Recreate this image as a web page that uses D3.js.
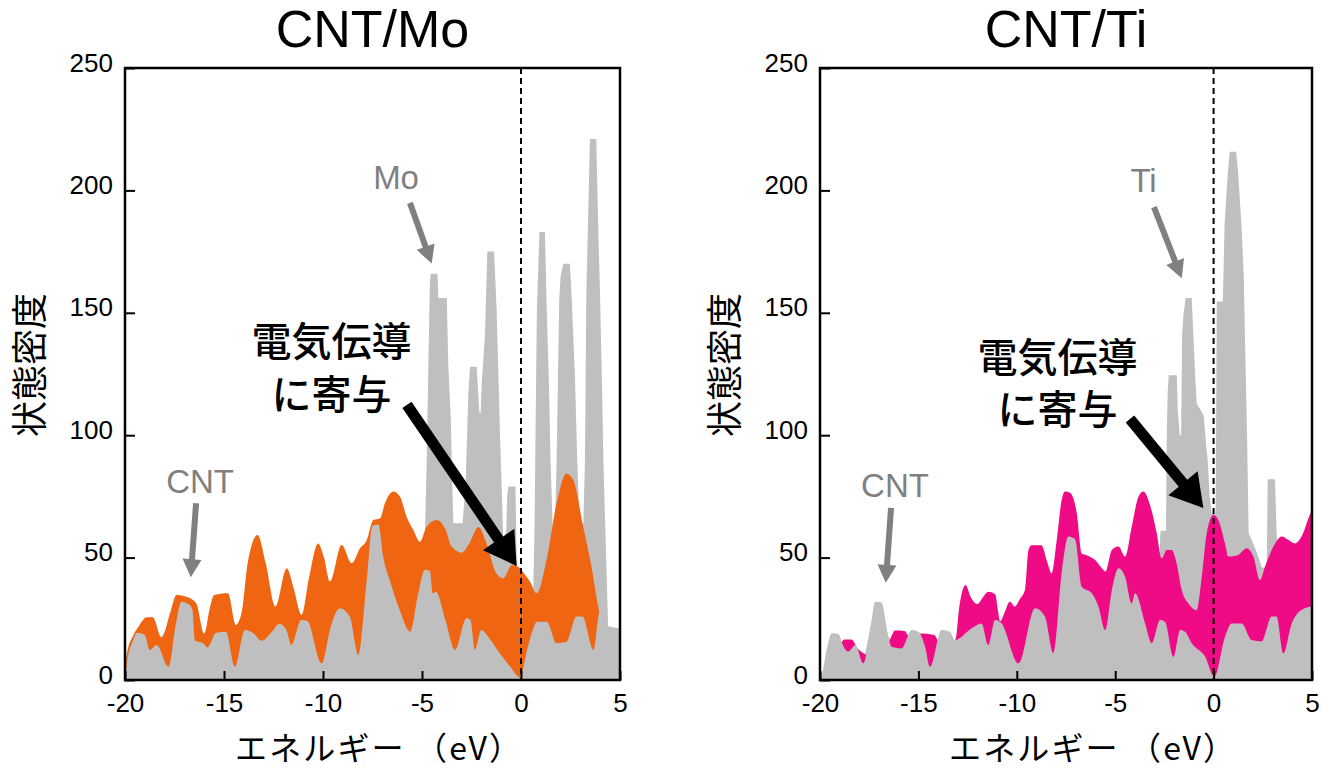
<!DOCTYPE html>
<meta charset="utf-8">
<style>
    body {
        margin: 0;
        background: #fff;
    }

    .tick text {
        font-family: "Liberation Sans", Arial, sans-serif;
        fill: #000;
    }

    .panelTitle {
        font-family: "Liberation Sans", Arial, sans-serif;
        font-size: 52px;
        text-anchor: middle;
    }

    .grayLabel {
        font-family: "Liberation Sans", Arial, sans-serif;
        font-size: 33px;
        fill: #808080;
        text-anchor: middle;
    }

    .jp {
        font-family: "Noto Sans CJK JP", sans-serif;
        text-anchor: middle;
    }
</style>
<body>
<script src="https://d3js.org/d3.v7.min.js"></script>
<script>

    // [energy (eV), density of states]
    var moTotal = [[-20,0],[-19.9,7],[-19.4,19],[-19,18],[-18.4,14],[-17.15,32],[-16.5,28],[-16,15],[-15,20],[-14,20],[-12.2,23],[-11,24],[-10,10],[-9.15,29],[-8.2,12],[-7.5,63],[-7.2,63],[-6.6,40],[-5.6,20],[-5,50],[-4.85,60],[-4.76,90],[-4.68,128],[-4.6,163],[-4.56,166],[-4.22,166],[-4.17,156],[-3.75,156],[-3.67,128],[-3.55,108],[-3.5,90],[-3.42,64],[-2.95,64],[-2.8,80],[-2.74,95],[-2.66,117],[-2.57,128],[-2.24,128],[-2.1,109],[-2.04,109],[-1.99,120],[-1.82,141],[-1.7,175],[-1.36,175],[-1.23,151],[-1.06,100],[-0.98,80],[-0.9,58],[-0.75,60],[-0.7,75],[-0.64,79],[-0.28,79],[-0.22,50],[0,30],[0.6,30],[0.68,60],[0.72,90],[0.8,150],[0.93,183],[1.21,183],[1.29,155],[1.41,121],[1.49,90],[1.6,62],[1.72,64],[1.8,90],[1.93,155],[2.0,165],[2.14,170],[2.47,170],[2.55,158],[2.72,125],[2.84,90],[2.95,64],[3.15,64],[3.23,90],[3.3,158],[3.38,185],[3.48,221],[3.8,221],[3.9,185],[3.99,158],[4.1,117],[4.16,90],[4.3,50],[4.4,22],[5,21]];
    var moUpper = [[-20,5],[-19.9,10.9],[-19.6,18],[-19.3,22],[-18.9,25.6],[-18.6,25.6],[-18.15,17.4],[-17.7,28],[-17.4,34.7],[-16.9,34],[-16.4,31.3],[-16.0,19],[-15.7,30],[-15.5,34.7],[-14.8,35.4],[-14.4,22.5],[-14.1,28],[-13.8,48],[-13.3,59.2],[-12.9,48],[-12.4,30],[-11.83,45.6],[-11.5,38],[-11.08,26.6],[-10.7,42],[-10.25,55.8],[-9.95,50],[-9.65,40.2],[-9.06,55.1],[-8.55,47.7],[-8.13,53.8],[-7.8,57],[-7.46,65.4],[-7.12,66],[-6.87,72.2],[-6.45,77],[-6.11,74.9],[-5.78,66.7],[-5.44,61.3],[-5.1,56.5],[-4.77,62.6],[-4.26,65.4],[-3.84,62],[-3.5,54.5],[-3.0,52],[-2.6,56],[-2.15,62.5],[-1.75,56],[-1.25,43.6],[-0.9,41.5],[-0.45,47],[-0.1,46],[0.2,43],[0.45,40.2],[0.79,35.4],[1.29,49],[1.8,72.2],[2.3,84.4],[2.64,81.7],[3.14,62.6],[3.56,46.3],[3.9,30],[4.0,26]];
    var moLower = [[-20,0],[-19.9,7],[-19.6,16],[-19.4,19.3],[-19.0,18.4],[-18.75,12.3],[-18.4,14.3],[-17.8,5.4],[-17.45,22],[-17.15,32],[-16.8,31],[-16.6,29],[-16.47,16],[-16.05,15],[-15.84,13.3],[-15.4,19.3],[-14.9,19.7],[-14.45,5.4],[-13.95,20.4],[-13.5,19],[-13.1,16],[-12.6,19.5],[-12.2,23],[-11.85,20.4],[-11.6,14.3],[-11.1,24.5],[-10.8,24.2],[-10.07,6.8],[-9.6,22],[-9.15,29.3],[-8.65,25.9],[-8.22,10.2],[-7.8,40],[-7.5,63],[-7.2,63.5],[-6.95,50],[-6.6,40],[-6.1,28],[-5.6,19.7],[-5.2,35],[-4.85,45],[-4.6,44.5],[-4.46,35.4],[-4.3,36],[-3.8,24],[-3.34,12.3],[-2.75,25.2],[-2.55,24.5],[-2.33,12.3],[-2.0,20.4],[-1.66,17.7],[-1.07,10.9],[-0.5,5],[-0.05,1],[0.3,12],[0.62,21],[0.79,23.8],[1.3,23.8],[1.8,15],[2.3,15.6],[2.8,25.9],[3.1,25.9],[3.66,12.3],[3.99,28.6],[4.3,22],[5,21]];

    var tiTotal = [[-20,0],[-19.9,1.4],[-19.66,12.3],[-19.4,19],[-19.07,18.8],[-18.8,13.6],[-18.56,11.6],[-18.2,14.3],[-17.8,6.8],[-17.4,23],[-17.2,32],[-16.87,31.6],[-16.53,17.7],[-16,13],[-15.3,19],[-14.4,8],[-13.8,19],[-13.1,16],[-12,22],[-11.1,24],[-10,7],[-9.07,29],[-8.15,11],[-7.4,58],[-6.7,38],[-5.5,20],[-4.8,45],[-4.2,31],[-3.5,23],[-3.1,15],[-2.75,50],[-2.7,61],[-2.42,61],[-2.38,100],[-2.33,118],[-2.28,124.5],[-1.87,124.5],[-1.82,110],[-1.72,100],[-1.65,100],[-1.6,141],[-1.52,150],[-1.42,156],[-1.11,156],[-1.03,141],[-0.94,125],[-0.86,113],[-0.5,108],[-0.38,96],[-0.3,90],[-0.2,75],[-0.1,68],[0.1,68],[0.14,120],[0.16,154.6],[0.47,154.6],[0.56,186.6],[0.73,208],[0.82,215.8],[1.14,215.8],[1.24,208],[1.41,186.6],[1.53,166],[1.62,130],[1.7,100],[1.78,60],[2.0,56],[2.2,52],[2.45,46],[2.7,46],[2.75,82],[3.12,82],[3.2,60],[3.3,50],[4,50],[5,50]];
    var tiUpper = [[-20,0],[-19.5,5],[-19.1,12],[-18.75,16.5],[-18.4,16.5],[-18.1,13],[-17.8,11],[-17.5,10],[-17,12],[-16.6,14],[-16.3,19],[-16.2,20.2],[-15.7,20],[-15.5,18],[-15.1,17],[-14.9,19],[-14.2,18.4],[-13.9,15],[-13.3,15],[-13.1,17],[-12.95,28],[-12.6,38.8],[-12.35,34],[-12.0,31],[-11.7,34],[-11.45,36],[-11.1,35],[-10.95,28],[-10.85,24],[-10.65,27],[-10.35,32],[-10.1,30],[-9.85,33],[-9.58,37],[-9.41,53],[-9.25,55],[-8.75,55],[-8.45,48],[-8.23,43.6],[-7.97,57.2],[-7.72,73.5],[-7.55,77],[-7.3,76.5],[-6.95,68],[-6.7,51.7],[-6.45,51],[-6.02,49],[-5.68,45.6],[-5.5,44.3],[-5.17,53.1],[-4.83,54.5],[-4.5,50.4],[-4.16,62.6],[-3.82,74.9],[-3.57,77],[-3.23,71.5],[-2.89,59.9],[-2.64,49.7],[-2.38,53.1],[-2.13,53.1],[-1.88,47.7],[-1.62,36.8],[-1.28,31.3],[-0.86,28.6],[-0.6,42.2],[-0.35,59.9],[0,67.4],[0.24,65.4],[0.58,55.8],[0.75,50.4],[1.25,51.1],[1.68,53.8],[2.02,50.4],[2.36,40.8],[2.61,46.3],[3.04,54.5],[3.46,58.6],[3.8,57.2],[4.14,55.8],[4.47,58.6],[4.98,68.8],[5,69]];
    var tiLower = [[-20,0],[-19.9,1.4],[-19.66,12.3],[-19.4,19],[-19.07,18.8],[-18.8,13.6],[-18.56,11.6],[-18.2,14.3],[-17.8,6.8],[-17.4,23],[-17.2,32],[-16.87,31.6],[-16.53,17.7],[-16.36,13.6],[-15.85,12.9],[-15.34,20.4],[-15.0,19.7],[-14.66,13.6],[-14.41,5.4],[-13.82,20.4],[-13.4,19.7],[-13.14,16.3],[-12.29,21.1],[-11.79,23.1],[-11.45,14.3],[-11.1,24.5],[-10.77,23.1],[-9.92,6.8],[-9.07,29.3],[-8.57,25.9],[-8.14,10.9],[-7.7,45],[-7.38,58.6],[-7.04,57.5],[-6.7,38.1],[-6.19,35.4],[-5.85,30],[-5.51,20.4],[-5.17,36.8],[-4.83,45.6],[-4.5,42.2],[-4.16,31.3],[-3.99,35.4],[-3.48,23.1],[-3.14,15],[-2.72,24.5],[-2.47,23.8],[-2.04,9.5],[-1.7,20.4],[-1.45,19.7],[-1.11,15],[-0.43,9.5],[0.04,1.4],[0.58,17.7],[0.92,23.1],[1.42,23.1],[1.93,16.3],[2.44,15.7],[2.95,25.9],[3.2,25.9],[3.54,10.9],[3.97,23.1],[4.47,28.6],[5,30]];

    var xTicks = [-20, -15, -10, -5, 0, 5];
    var yTicks = [0, 50, 100, 150, 200, 250];
    var panelTitles = ["CNT/Mo", "CNT/Ti"];
    var metalNames = ["Mo", "Ti"];
    var yLabel = "状態密度";
    var xLabel = "エネルギー （eV）";
    var noteLines = ["電気伝導", "に寄与"];

    // layout of the two panels (annotation spots in data units)
    var panels = [{
        title: panelTitles[0], metal: metalNames[0], left: 125, right: 620,
        total: moTotal, upper: moUpper, lower: moLower, color: "#ef6511",
        metalAt: [-6.31, 200.6], metalArrow: [[-5.61, 194.9], [-4.51, 170.1]],
        cntAt: [-16.21, 76.4], cntArrow: [[-16.41, 72.2], [-16.68, 42.0]],
        noteAt: [-9.57, 132.4, 110.7], noteArrow: [[-5.76, 112.4], [-0.22, 46.6]],
        xLabelX: 378
    }, {
        title: panelTitles[1], metal: metalNames[1], left: 820, right: 1312,
        total: tiTotal, upper: tiUpper, lower: tiLower, color: "#ef0b86",
        metalAt: [-3.56, 199.3], metalArrow: [[-3.03, 193.2], [-1.62, 164.1]],
        cntAt: [-16.19, 74.8], cntArrow: [[-16.39, 70.3], [-16.66, 39.7]],
        noteAt: [-7.93, 125.8, 104.6], noteArrow: [[-4.25, 106.6], [-0.52, 70.3]],
        xLabelX: 1092
    }];

    var plotTop = 68, plotBottom = 680;

    var svg = d3.select("body").append("svg").attr("width", 1322).attr("height", 770);

    // polygon for a straight arrow with a filled head
    function arrowPath(x0, y0, x1, y1, sw, hl, hw) {
        var dx = x1 - x0, dy = y1 - y0, len = Math.sqrt(dx * dx + dy * dy);
        var ux = dx / len, uy = dy / len, px = -uy, py = ux;
        var bx = x1 - ux * hl, by = y1 - uy * hl;
        var pts = [
            [x0 + px * sw / 2, y0 + py * sw / 2],
            [bx + px * sw / 2, by + py * sw / 2],
            [bx + px * hw / 2, by + py * hw / 2],
            [x1, y1],
            [bx - px * hw / 2, by - py * hw / 2],
            [bx - px * sw / 2, by - py * sw / 2],
            [x0 - px * sw / 2, y0 - py * sw / 2]
        ];
        return "M" + pts.join("L") + "Z";
    }

    panels.forEach(function(p) {
        var x = d3.scaleLinear().domain([-20, 5]).range([p.left, p.right]);
        var y = d3.scaleLinear().domain([0, 250]).range([plotBottom, plotTop]);

        var sharp = d3.area().x(function(d) { return x(d[0]); }).y0(y(0)).y1(function(d) { return y(d[1]); });
        var smooth = d3.area().curve(d3.curveMonotoneX).x(function(d) { return x(d[0]); }).y0(y(0)).y1(function(d) { return y(d[1]); });

        var g = svg.append("g");

        // total DOS, contribution band, CNT part
        g.append("path").datum(p.total).attr("d", sharp).attr("fill", "#bfbfbf");
        g.append("path").datum(p.upper).attr("d", smooth).attr("fill", p.color);
        g.append("path").datum(p.lower).attr("d", smooth).attr("fill", "#bfbfbf");

        // fermi level
        g.append("line").attr("x1", x(0)).attr("x2", x(0)).attr("y1", y(250)).attr("y2", y(0))
            .attr("stroke", "#000").attr("stroke-width", 2).attr("stroke-dasharray", "6,4");

        // axes with inside ticks
        var plain = function(d) { return String(d); };
        var ya = g.append("g").attr("transform", "translate(" + p.left + ",0)")
            .call(d3.axisLeft(y).tickValues(yTicks).tickFormat(plain).tickSize(-10).tickPadding(12));
        ya.select(".domain").remove();
        ya.selectAll("line").attr("stroke-width", 2);
        ya.selectAll("text").attr("font-size", 26).attr("dy", "0.12em");

        var xa = g.append("g").attr("transform", "translate(0," + plotBottom + ")")
            .call(d3.axisBottom(x).tickValues(xTicks).tickFormat(plain).tickSize(-9).tickPadding(14));
        xa.select(".domain").remove();
        xa.selectAll("line").attr("stroke-width", 2);
        xa.selectAll("text").attr("font-size", 26);

        // frame
        g.append("rect").attr("x", p.left).attr("y", plotTop).attr("width", p.right - p.left).attr("height", plotBottom - plotTop)
            .attr("fill", "none").attr("stroke", "#000").attr("stroke-width", 2.5);

        // titles and axis labels
        g.append("text").attr("class", "panelTitle").attr("x", (p.left + p.right) / 2).attr("y", 47).text(p.title);
        g.append("text").attr("class", "jp").attr("font-size", 32)
            .attr("x", p.xLabelX).attr("y", 760)
            .attr("textLength", 286).attr("lengthAdjust", "spacing").text(xLabel);
        g.append("text").attr("class", "jp").attr("font-size", 36)
            .attr("transform", "translate(" + (p.left - 82) + "," + 365 + ") rotate(-90)").text(yLabel);

        // gray labels with arrows
        g.append("text").attr("class", "grayLabel").attr("x", x(p.metalAt[0])).attr("y", y(p.metalAt[1])).text(p.metal);
        g.append("text").attr("class", "grayLabel").attr("x", x(p.cntAt[0])).attr("y", y(p.cntAt[1])).text("CNT");
        [p.metalArrow, p.cntArrow].forEach(function(a) {
            g.append("path").attr("d", arrowPath(x(a[0][0]), y(a[0][1]), x(a[1][0]), y(a[1][1]), 6, 18, 19))
                .attr("fill", "#808080");
        });

        // note with black arrow
        noteLines.forEach(function(t, i) {
            g.append("text").attr("class", "jp").attr("font-size", 40).attr("font-weight", 500)
                .attr("x", x(p.noteAt[0])).attr("y", y(p.noteAt[1 + i])).text(t);
        });
        var a = p.noteArrow;
        g.append("path").attr("d", arrowPath(x(a[0][0]), y(a[0][1]), x(a[1][0]), y(a[1][1]), 11, 32, 38))
            .attr("fill", "#000");
    });
</script>
</body>
